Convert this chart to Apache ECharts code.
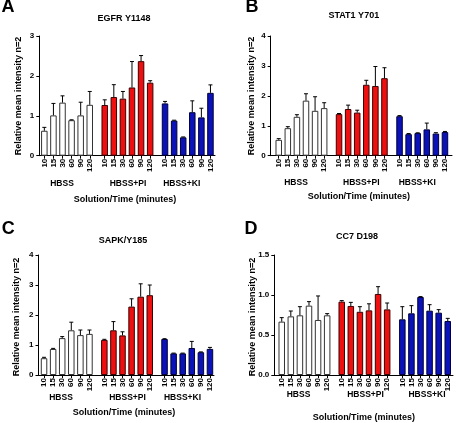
<!DOCTYPE html>
<html>
<head>
<meta charset="utf-8">
<script src="https://cdn.jsdelivr.net/npm/echarts@6/dist/echarts.min.js"></script>
<style>html,body{margin:0;padding:0;background:#fff}#c{width:456px;height:423px}</style>
</head>
<body>
<div id="c"></div>
<script>
// ---- data ----
const times = ['10', '15', '30', '60', '90', '120'];
const groups = ['HBSS', 'HBSS+PI', 'HBSS+KI'];
const yAxisTitle = 'Relative mean intensity n=2';
const xAxisTitle = 'Solution/Time (minutes)';
const panelTitles = ['EGFR Y1148', 'STAT1 Y701', 'SAPK/Y185', 'CC7 D198'];
const panelLetters = ['A', 'B', 'C', 'D'];

// means: HBSS x6, HBSS+PI x6, HBSS+KI x6 ; errors: upper error bar length
const egfrMean = [0.625, 1.01, 1.33, 0.89, 1.01, 1.275, 1.27, 1.47, 1.43, 1.71, 2.37, 1.83, 1.31, 0.88, 0.46, 1.09, 0.96, 1.575];
const egfrErr  = [0.085, 0.30, 0.17, 0.01, 0.33, 0.335, 0.13, 0.31, 0.18, 0.65, 0.14, 0.05, 0.05, 0.01, 0.01, 0.285, 0.23, 0.20];
const stat1Mean = [0.53, 0.92, 1.30, 1.84, 1.50, 1.59, 1.39, 1.56, 1.44, 2.37, 2.33, 2.59, 1.32, 0.72, 0.755, 0.88, 0.74, 0.79];
const stat1Err  = [0.04, 0.05, 0.07, 0.23, 0.47, 0.18, 0.02, 0.13, 0.08, 0.15, 0.65, 0.35, 0.02, 0.02, 0.01, 0.21, 0.03, 0.02];
const sapkMean = [0.56, 0.867, 1.23, 1.49, 1.33, 1.37, 1.17, 1.49, 1.32, 2.28, 2.61, 2.66, 1.20, 0.72, 0.72, 0.90, 0.76, 0.87];
const sapkErr  = [0.03, 0.02, 0.05, 0.27, 0.17, 0.13, 0.02, 0.29, 0.12, 0.26, 0.43, 0.34, 0.01, 0.01, 0.01, 0.22, 0.01, 0.05];
const cc7Mean = [0.667, 0.733, 0.746, 0.867, 0.688, 0.746, 0.917, 0.863, 0.79, 0.808, 1.013, 0.82, 0.696, 0.771, 0.975, 0.804, 0.779, 0.675];
const cc7Err  = [0.05, 0.067, 0.108, 0.05, 0.30, 0.021, 0.013, 0.045, 0.064, 0.082, 0.091, 0.08, 0.158, 0.096, 0.005, 0.075, 0.038, 0.033];
const yMaxes = [3, 4, 4, 1.5];
const yIntervals = [1, 1, 1, 0.5];

// ---- layout (pixels) ----
const FONT = 'Liberation Sans, Arial, Helvetica, sans-serif';
const groupFill = ['#ffffff', '#ee1010', '#0a12b8'];
const groupBorder = ['#333333', '#3a0000', '#00003a'];
const layout = [
  {axisX: 39.3, gl: [39.8, 100.2, 160.5], gw: 54.5, right: 215, top: 36, bottom: 155.7,
   letter: [8, 7], title: [124, 18.7], ytitle: [19, 96], glab: [[62, 184], [128, 184], [181.7, 184]], xtitle: [125, 199.3], dec: 0},
  {axisX: 270.7, gl: [274.2, 334.5, 395], gw: 54.5, right: 452, top: 36, bottom: 155.7,
   letter: [252, 7.5], title: [353.8, 15.7], ytitle: [251.5, 96], glab: [[296, 182.5], [361.3, 182.5], [417.2, 182.5]], xtitle: [358.8, 197], dec: 0},
  {axisX: 38.5, gl: [39.5, 99.8, 160], gw: 54.5, right: 214, top: 255, bottom: 375,
   letter: [8.3, 229], title: [123, 240.7], ytitle: [16.7, 317], glab: [[61, 397.5], [127.5, 397.5], [182.5, 397.5]], xtitle: [124, 412.5], dec: 0},
  {axisX: 274.3, gl: [277.2, 337.2, 397.8], gw: 54.5, right: 453, top: 255, bottom: 375,
   letter: [251, 229], title: [357, 236.3], ytitle: [253, 317], glab: [[298.5, 395], [365.5, 395], [427, 395]], xtitle: [363.8, 417.5], dec: 1}
];
const means = [egfrMean, stat1Mean, sapkMean, cc7Mean];
const errs = [egfrErr, stat1Err, sapkErr, cc7Err];

const grid = [], xAxis = [], yAxis = [], series = [], graphic = [];

function txt(x, y, s, size, rot) {
  graphic.push({
    type: 'text', x: x, y: y, rotation: rot || 0, silent: true,
    style: {text: s, fill: '#000', font: 'bold ' + size + 'px ' + FONT, align: 'center', verticalAlign: 'middle'}
  });
}

layout.forEach(function (L, p) {
  const h = L.bottom - L.top;
  // frame grid: y axis + continuous x axis line
  const fi = grid.length;
  grid.push({left: L.axisX, top: L.top, width: L.right - L.axisX, height: h, containLabel: false});
  xAxis.push({gridIndex: fi, type: 'value', min: 0, max: 1, axisLine: {show: true, onZero: false, lineStyle: {color: '#000', width: 1}},
    axisTick: {show: false}, axisLabel: {show: false}, splitLine: {show: false}});
  yAxis.push({gridIndex: fi, type: 'value', min: 0, max: yMaxes[p], interval: yIntervals[p],
    axisLine: {show: true, lineStyle: {color: '#000', width: 1}},
    axisTick: {show: true, inside: false, length: 3, lineStyle: {color: '#000', width: 1}},
    axisLabel: {show: true, margin: 5, color: '#000', fontSize: 8, fontWeight: 'bold', fontFamily: FONT,
      formatter: function (v) { return v.toFixed(L.dec); }},
    splitLine: {show: false}});
  // group grids
  for (let g = 0; g < 3; g++) {
    const gi = grid.length;
    grid.push({left: L.gl[g], top: L.top, width: L.gw, height: h, containLabel: false});
    xAxis.push({gridIndex: gi, type: 'category', data: times,
      axisLine: {show: false},
      axisTick: {show: true, alignWithLabel: true, length: 3, lineStyle: {color: '#000', width: 1}},
      axisLabel: {show: true, rotate: 90, interval: 0, margin: 3, color: '#000', fontSize: 8, fontWeight: 'bold', fontFamily: FONT},
      splitLine: {show: false}});
    yAxis.push({gridIndex: gi, type: 'value', min: 0, max: yMaxes[p], interval: yIntervals[p], show: false});
    const m = means[p].slice(g * 6, g * 6 + 6);
    const e = errs[p].slice(g * 6, g * 6 + 6);
    series.push({
      type: 'bar', xAxisIndex: gi, yAxisIndex: gi, data: m, barWidth: 6.5, silent: true, animation: false,
      itemStyle: {color: groupFill[g], borderColor: groupBorder[g], borderWidth: 1}, z: 2
    });
    series.push({
      type: 'custom', xAxisIndex: gi, yAxisIndex: gi, silent: true, animation: false, z: 3,
      data: m.map(function (v, i) { return [i, v, v + e[i]]; }),
      renderItem: function (params, api) {
        const b = api.coord([api.value(0), api.value(1)]);
        const t = api.coord([api.value(0), api.value(2)]);
        const style = {stroke: '#000', lineWidth: 1};
        return {type: 'group', children: [
          {type: 'line', shape: {x1: b[0], y1: b[1], x2: t[0], y2: t[1]}, style: style},
          {type: 'line', shape: {x1: t[0] - 2, y1: t[1], x2: t[0] + 2, y2: t[1]}, style: style}
        ]};
      }
    });
  }
  txt(L.letter[0], L.letter[1], panelLetters[p], 18);
  txt(L.title[0], L.title[1], panelTitles[p], 9);
  txt(L.ytitle[0], L.ytitle[1], yAxisTitle, 9, Math.PI / 2);
  for (let g = 0; g < 3; g++) txt(L.glab[g][0], L.glab[g][1], groups[g], 8.5);
  txt(L.xtitle[0], L.xtitle[1], xAxisTitle, 9);
});

const chart = echarts.init(document.getElementById('c'), null, {renderer: 'canvas'});
chart.setOption({
  animation: false,
  backgroundColor: '#fff',
  grid: grid, xAxis: xAxis, yAxis: yAxis, series: series, graphic: graphic,
  tooltip: {show: false}
});
</script>
</body>
</html>
